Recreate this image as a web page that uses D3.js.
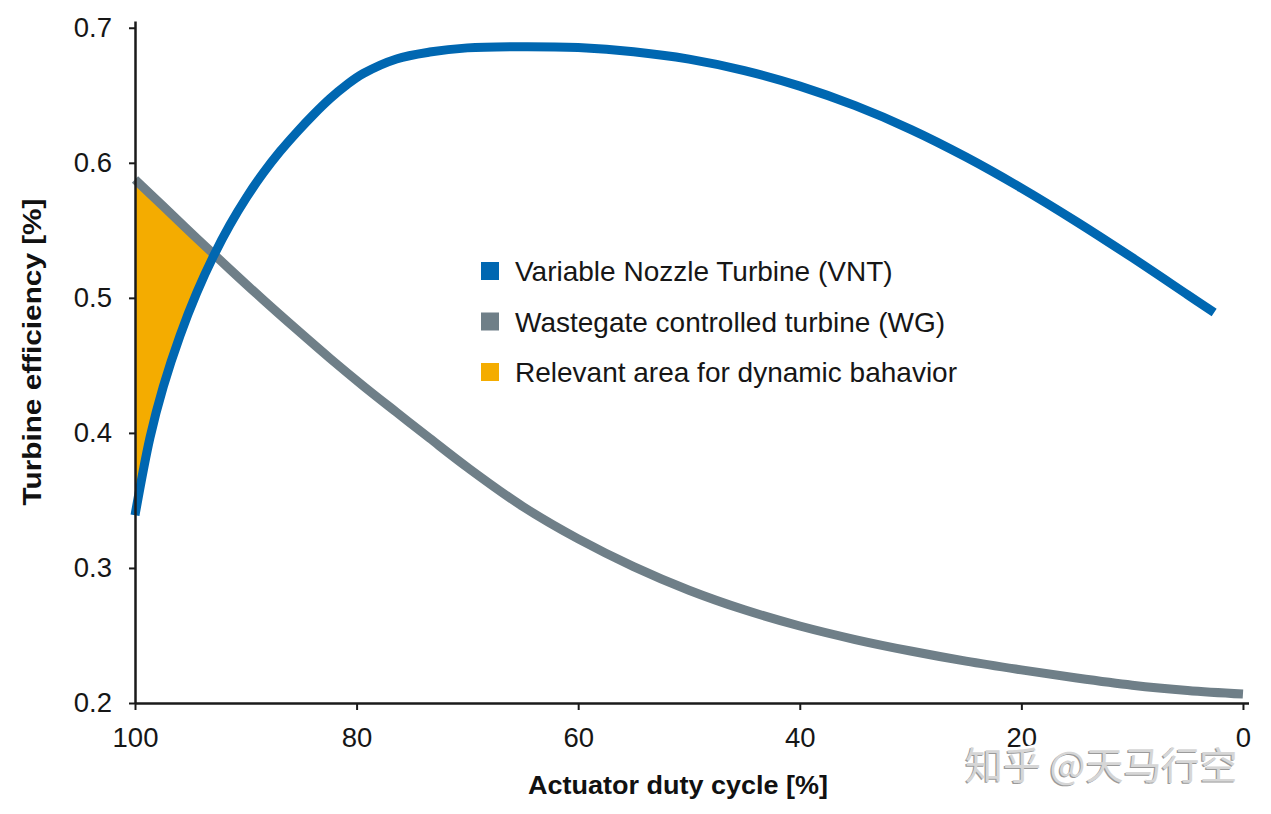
<!DOCTYPE html>
<html>
<head>
<meta charset="utf-8">
<script src="https://cdn.jsdelivr.net/npm/d3@7"></script>
<style>
  html, body { margin: 0; padding: 0; background: #fff; }
  svg { display: block; }
</style>
</head>
<body>
<svg id="chart" width="1271" height="814"></svg>
<script>
// ---- data ----
const xTicks = [100, 80, 60, 40, 20, 0];
const yTicks = [0.2, 0.3, 0.4, 0.5, 0.6, 0.7];

const vntDuty = [100, 98.65, 97.45, 95.94, 94.43, 92.93, 91.43, 89.92, 88.42, 86.91, 85.41, 83.9, 82.4, 80.9, 79.4, 76.4, 73.4, 70, 65, 60, 55, 50, 45, 40, 35, 30, 25, 20, 15, 10, 5, 2.6];
const vntEff  = [0.339, 0.3964, 0.4342, 0.472, 0.5037, 0.5307, 0.5541, 0.5746, 0.5925, 0.6084, 0.6225, 0.6356, 0.6475, 0.6577, 0.6661, 0.6769, 0.682, 0.6851, 0.686, 0.6853, 0.6823, 0.6768, 0.6683, 0.6568, 0.6423, 0.6248, 0.6043, 0.5813, 0.5563, 0.5298, 0.5023, 0.4891];

const wgDuty = [100, 97.45, 94.43, 91.43, 88.42, 85.41, 82.4, 79.4, 76.4, 73.4, 70, 65, 60, 55, 50, 45, 40, 35, 30, 25, 20, 15, 10, 5, 0];
const wgEff  = [0.5877, 0.5678, 0.5442, 0.5211, 0.4985, 0.4766, 0.4552, 0.4348, 0.4153, 0.396, 0.3745, 0.3455, 0.3215, 0.301, 0.2835, 0.269, 0.257, 0.247, 0.2385, 0.231, 0.2245, 0.2185, 0.2132, 0.2093, 0.2066];

const legendLabels = ["Variable Nozzle Turbine (VNT)", "Wastegate controlled turbine (WG)", "Relevant area for dynamic bahavior"];
const legendColors = ["#0067b1", "#6f7f88", "#f4ac00"];

const xTitle = "Actuator duty cycle [%]";
const yTitle = "Turbine efficiency [%]";
const watermark = "知乎 @天马行空";

// ---- build ----
const svg = d3.select("#chart");
const x = d3.scaleLinear().domain([100, -0.5]).range([135, 1248.5]);
const y = d3.scaleLinear().domain([0.2, 0.705]).range([703, 21]);

const vnt = vntDuty.map((d, i) => ({ d, v: vntEff[i] }));
const wg = wgDuty.map((d, i) => ({ d, v: wgEff[i] }));

const curve = d3.curveCatmullRom.alpha(0.5);

// clip: region above blue curve
const defs = svg.append("defs");
defs.append("clipPath").attr("id", "aboveVnt")
  .append("path")
  .attr("d", d3.area().x(p => x(p.d)).y0(0).y1(p => y(p.v)).curve(curve)(vnt));

// orange area: below gray, above blue
svg.append("path")
  .attr("clip-path", "url(#aboveVnt)")
  .attr("d", d3.area().x(p => x(p.d)).y0(y(0.2)).y1(p => y(p.v)).curve(curve)(wg))
  .attr("fill", legendColors[2]);

const line = d3.line().x(p => x(p.d)).y(p => y(p.v)).curve(curve);

svg.append("path").attr("d", line(wg))
  .attr("fill", "none").attr("stroke", legendColors[1]).attr("stroke-width", 9).attr("stroke-linecap", "butt");
svg.append("path").attr("d", line(vnt))
  .attr("fill", "none").attr("stroke", legendColors[0]).attr("stroke-width", 9).attr("stroke-linecap", "butt");

// axes
const fontFam = "'Liberation Sans', Arial, sans-serif";
const yAxis = svg.append("g").attr("transform", `translate(${x(100)},0)`)
  .call(d3.axisLeft(y).tickValues(yTicks).tickFormat(d3.format(".1f")).tickSize(6).tickSizeOuter(0).tickPadding(17));
const xAxis = svg.append("g").attr("transform", `translate(0,${y(0.2)})`)
  .call(d3.axisBottom(x).tickValues(xTicks).tickFormat(d3.format("d")).tickSize(7).tickSizeOuter(0).tickPadding(17));

[yAxis, xAxis].forEach(g => {
  g.select(".domain").attr("stroke", "#1a1a1a").attr("stroke-width", 2.5);
  g.selectAll(".tick line").attr("stroke", "#1a1a1a").attr("stroke-width", 2);
  g.selectAll(".tick text").attr("fill", "#161616").attr("font-size", 27.5).attr("font-family", fontFam);
});

// axis titles
svg.append("text").text(xTitle)
  .attr("x", 678).attr("y", 794)
  .attr("text-anchor", "middle")
  .attr("font-family", fontFam).attr("font-weight", "bold").attr("font-size", 25)
  .attr("textLength", 300).attr("lengthAdjust", "spacingAndGlyphs")
  .attr("fill", "#111");

svg.append("text").text(yTitle)
  .attr("transform", "translate(41,352) rotate(-90)")
  .attr("text-anchor", "middle")
  .attr("font-family", fontFam).attr("font-weight", "bold").attr("font-size", 25)
  .attr("textLength", 307).attr("lengthAdjust", "spacingAndGlyphs")
  .attr("fill", "#111");

// legend
const lg = svg.append("g");
legendLabels.forEach((lab, i) => {
  const cy = 271 + i * 50.5;
  lg.append("rect").attr("x", 481).attr("y", cy - 9).attr("width", 18).attr("height", 18).attr("fill", legendColors[i]);
  lg.append("text").text(lab).attr("x", 515).attr("y", cy).attr("dy", "0.36em")
    .attr("font-family", fontFam).attr("font-size", 28).attr("fill", "#161616");
});

// watermark
const wm = svg.append("g").attr("font-family", "'Noto Sans CJK SC', sans-serif").attr("font-size", 38);
wm.append("text").text(watermark).attr("x", 965).attr("y", 779)
  .attr("fill", "#fff").attr("stroke", "#fff").attr("stroke-width", 6).attr("stroke-linejoin", "round");
wm.append("text").text(watermark).attr("x", 963.8).attr("y", 780.2).attr("fill", "#9a9a9a");
wm.append("text").text(watermark).attr("x", 965).attr("y", 779).attr("fill", "#d6d6d6");
</script>
</body>
</html>
